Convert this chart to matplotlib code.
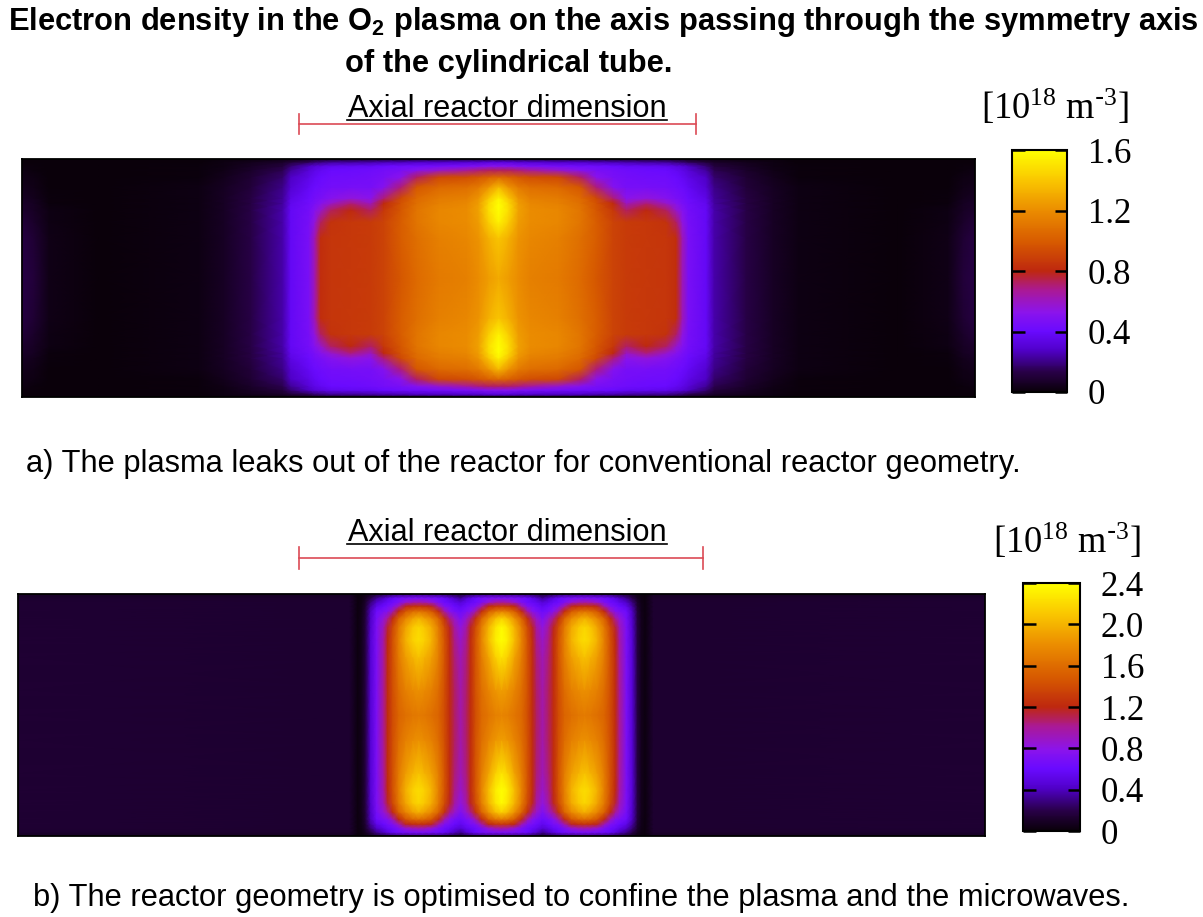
import matplotlib.pyplot as plt
import numpy as np
from matplotlib.colors import LinearSegmentedColormap

plt.rcParams["font.family"] = ["Liberation Sans", "DejaVu Sans"]
plt.rcParams["mathtext.default"] = "regular"

W, H = 1203, 917

# density, one quarter of each tube (it is mirrored in x and y)
# a: distance from tube centre in pixels of the picture
dx_a = [0, 10, 20, 32, 60, 82, 98, 115, 128, 148, 168, 178, 184, 190, 208, 216, 248, 275, 300, 400, 450, 465, 477]
dy_a = [0, 40, 56, 68, 75, 80, 91, 101, 108, 112, 116, 119]
density_a = [
    [1.30, 1.25, 1.20, 1.15, 1.12, 1.06, 0.98, 0.90, 0.87, 0.86, 0.85, 0.82, 0.62, 0.46, 0.38, 0.24, 0.13, 0.06, 0.02, 0.00, 0.03, 0.10, 0.13],
    [1.40, 1.32, 1.22, 1.18, 1.15, 1.08, 1.00, 0.90, 0.87, 0.86, 0.85, 0.82, 0.62, 0.46, 0.38, 0.24, 0.13, 0.06, 0.02, 0.00, 0.03, 0.09, 0.12],
    [1.55, 1.42, 1.25, 1.20, 1.18, 1.10, 1.00, 0.90, 0.87, 0.86, 0.84, 0.72, 0.55, 0.45, 0.38, 0.24, 0.13, 0.06, 0.02, 0.00, 0.02, 0.07, 0.10],
    [1.60, 1.48, 1.27, 1.20, 1.18, 1.10, 0.98, 0.86, 0.72, 0.80, 0.72, 0.58, 0.50, 0.44, 0.38, 0.24, 0.13, 0.06, 0.02, 0.00, 0.02, 0.06, 0.08],
    [1.60, 1.46, 1.25, 1.18, 1.15, 1.08, 0.96, 0.80, 0.60, 0.70, 0.58, 0.50, 0.46, 0.43, 0.36, 0.23, 0.12, 0.06, 0.02, 0.00, 0.01, 0.05, 0.07],
    [1.55, 1.40, 1.22, 1.15, 1.13, 1.06, 0.93, 0.70, 0.52, 0.55, 0.50, 0.46, 0.44, 0.41, 0.34, 0.22, 0.12, 0.06, 0.02, 0.00, 0.01, 0.04, 0.06],
    [1.35, 1.22, 1.12, 1.08, 1.05, 0.98, 0.70, 0.50, 0.45, 0.45, 0.44, 0.42, 0.41, 0.38, 0.30, 0.20, 0.10, 0.05, 0.02, 0.00, 0.00, 0.03, 0.04],
    [1.05, 1.02, 0.98, 0.95, 0.92, 0.72, 0.52, 0.46, 0.44, 0.43, 0.42, 0.40, 0.38, 0.35, 0.27, 0.17, 0.09, 0.04, 0.01, 0.00, 0.00, 0.02, 0.03],
    [0.72, 0.72, 0.70, 0.66, 0.58, 0.50, 0.46, 0.44, 0.42, 0.41, 0.40, 0.37, 0.35, 0.31, 0.22, 0.14, 0.07, 0.03, 0.01, 0.00, 0.00, 0.01, 0.02],
    [0.50, 0.50, 0.48, 0.46, 0.44, 0.43, 0.42, 0.40, 0.38, 0.37, 0.36, 0.33, 0.31, 0.27, 0.18, 0.11, 0.06, 0.02, 0.01, 0.00, 0.00, 0.01, 0.01],
    [0.32, 0.32, 0.30, 0.30, 0.28, 0.28, 0.26, 0.25, 0.24, 0.23, 0.22, 0.19, 0.18, 0.15, 0.10, 0.07, 0.04, 0.02, 0.00, 0.00, 0.00, 0.00, 0.00],
    [0.10, 0.10, 0.10, 0.09, 0.09, 0.08, 0.08, 0.08, 0.07, 0.07, 0.06, 0.06, 0.05, 0.04, 0.03, 0.02, 0.01, 0.01, 0.00, 0.00, 0.00, 0.00, 0.00],
]

# b
dx_b = [0, 6, 13, 20, 26, 31, 35, 41, 47, 52, 57, 63, 70, 77, 83, 89, 96, 103, 109, 114, 118, 125, 131, 136, 140, 144, 152, 484]
dy_b = [0, 25, 58, 75, 88, 97, 104, 109, 113, 117, 121]
density_b = [
    [1.75, 1.72, 1.65, 1.58, 1.42, 1.22, 1.08, 0.95, 1.08, 1.22, 1.40, 1.55, 1.62, 1.66, 1.68, 1.66, 1.62, 1.55, 1.40, 1.22, 1.02, 0.70, 0.45, 0.18, 0.06, 0.02, 0.13, 0.14],
    [1.90, 1.85, 1.75, 1.62, 1.44, 1.22, 1.07, 0.95, 1.08, 1.22, 1.42, 1.60, 1.72, 1.79, 1.82, 1.79, 1.72, 1.60, 1.42, 1.22, 1.02, 0.70, 0.45, 0.18, 0.06, 0.02, 0.13, 0.14],
    [2.25, 2.15, 1.92, 1.70, 1.45, 1.22, 1.05, 0.92, 1.05, 1.22, 1.45, 1.70, 1.90, 2.00, 2.08, 2.00, 1.88, 1.68, 1.43, 1.22, 1.00, 0.70, 0.45, 0.18, 0.06, 0.02, 0.13, 0.14],
    [2.40, 2.30, 2.05, 1.75, 1.45, 1.22, 1.03, 0.88, 1.03, 1.22, 1.45, 1.72, 2.00, 2.15, 2.22, 2.15, 1.98, 1.70, 1.43, 1.20, 0.98, 0.70, 0.45, 0.18, 0.06, 0.02, 0.13, 0.14],
    [2.38, 2.25, 2.00, 1.70, 1.40, 1.18, 0.98, 0.82, 0.98, 1.18, 1.40, 1.68, 1.95, 2.10, 2.18, 2.10, 1.92, 1.66, 1.38, 1.15, 0.93, 0.70, 0.44, 0.18, 0.06, 0.02, 0.13, 0.14],
    [2.15, 2.05, 1.82, 1.55, 1.25, 1.03, 0.88, 0.72, 0.88, 1.03, 1.25, 1.55, 1.78, 1.90, 1.98, 1.90, 1.75, 1.52, 1.22, 1.00, 0.85, 0.67, 0.42, 0.17, 0.06, 0.02, 0.13, 0.14],
    [1.70, 1.65, 1.50, 1.22, 0.95, 0.75, 0.70, 0.62, 0.68, 0.75, 0.95, 1.22, 1.48, 1.58, 1.62, 1.58, 1.46, 1.20, 0.92, 0.74, 0.70, 0.62, 0.40, 0.16, 0.05, 0.02, 0.13, 0.14],
    [1.30, 1.28, 1.20, 0.95, 0.72, 0.68, 0.62, 0.55, 0.60, 0.68, 0.72, 0.95, 1.18, 1.24, 1.26, 1.24, 1.18, 0.92, 0.72, 0.66, 0.60, 0.52, 0.34, 0.14, 0.05, 0.02, 0.13, 0.14],
    [0.98, 0.95, 0.85, 0.70, 0.62, 0.58, 0.55, 0.46, 0.52, 0.58, 0.62, 0.70, 0.85, 0.92, 0.95, 0.92, 0.85, 0.70, 0.62, 0.58, 0.52, 0.42, 0.28, 0.12, 0.04, 0.02, 0.13, 0.14],
    [0.72, 0.72, 0.70, 0.66, 0.60, 0.52, 0.46, 0.33, 0.42, 0.50, 0.58, 0.64, 0.68, 0.70, 0.70, 0.70, 0.68, 0.64, 0.58, 0.50, 0.42, 0.32, 0.20, 0.09, 0.03, 0.02, 0.12, 0.13],
    [0.30, 0.30, 0.30, 0.28, 0.26, 0.22, 0.18, 0.12, 0.16, 0.20, 0.24, 0.28, 0.28, 0.30, 0.30, 0.30, 0.28, 0.28, 0.24, 0.20, 0.16, 0.12, 0.08, 0.04, 0.02, 0.01, 0.08, 0.08],
]

ticks_a = [0, 0.4, 0.8, 1.2, 1.6]
ticks_b = [0, 0.4, 0.8, 1.2, 1.6, 2.0, 2.4]
tick_labels_a = ["0", "0.4", "0.8", "1.2", "1.6"]
tick_labels_b = ["0", "0.4", "0.8", "1.2", "1.6", "2.0", "2.4"]

plasma_nodes = [
    (0.00, (10, 0, 10)),
    (0.08, (40, 0, 70)),
    (0.17, (80, 0, 200)),
    (0.25, (105, 10, 255)),
    (0.33, (140, 20, 235)),
    (0.42, (170, 25, 150)),
    (0.50, (190, 40, 15)),
    (0.62, (215, 90, 0)),
    (0.75, (235, 140, 0)),
    (0.88, (250, 200, 0)),
    (1.00, (255, 255, 0)),
]
cmap = LinearSegmentedColormap.from_list(
    "plasma_gnuplot", [(v, tuple(c / 255 for c in rgb)) for v, rgb in plasma_nodes]
)

fig = plt.figure(figsize=(W / 100, H / 100), dpi=100)


def box(x0, y0, x1, y1):
    return [x0 / W, 1 - y1 / H, (x1 - x0) / W, (y1 - y0) / H]


def mirror(dx, dy, values):
    dx = np.array(dx, float)
    dy = np.array(dy, float)
    v = np.array(values)
    x = np.concatenate([-dx[:0:-1], dx])
    y = np.concatenate([-dy[:0:-1], dy])
    v = np.hstack([v[:, :0:-1], v])
    v = np.vstack([v[:0:-1], v])
    return x, y, v


def tube(rect, bar_rect, dx, dy, values, ticks, tick_labels):
    ax = fig.add_axes(box(*rect))
    x, y, v = mirror(dx, dy, values)
    mesh = ax.pcolormesh(x, y, v, shading="gouraud", cmap=cmap, vmin=0, vmax=ticks[-1])
    ax.set_xlim(x[0], x[-1])
    ax.set_ylim(y[0], y[-1])
    ax.set_xticks([])
    ax.set_yticks([])
    for s in ax.spines.values():
        s.set_linewidth(1.3)

    cax = fig.add_axes(box(*bar_rect))
    cb = fig.colorbar(mesh, cax=cax)
    cb.set_ticks(ticks, labels=tick_labels)
    cb.outline.set_linewidth(1.5)
    cb.minorticks_off()
    cax.tick_params(
        axis="y",
        direction="in",
        left=True,
        right=True,
        length=9,
        width=1.8,
        pad=15,
        labelsize=25,
        labelfontfamily="Liberation Serif",
    )


tube((22, 159, 975, 397), (1012, 150, 1067, 392), dx_a, dy_a, density_a, ticks_a, tick_labels_a)
tube((18, 594, 985, 836), (1023, 583, 1080, 831), dx_b, dy_b, density_b, ticks_b, tick_labels_b)

# overlay in picture pixels for the texts and the red brackets
page = fig.add_axes([0, 0, 1, 1], zorder=-1)
page.set_xlim(0, W)
page.set_ylim(H, 0)
page.axis("off")

page.text(603, 22, "Electron density in the O$_2$ plasma on the axis passing through the symmetry axis",
          ha="center", va="center", fontsize=22.2, fontweight="bold")
page.text(345, 64, "of the cylindrical tube.", ha="left", va="center", fontsize=22.2, fontweight="bold")
page.text(26, 464, "a) The plasma leaks out of the reactor for conventional reactor geometry.",
          ha="left", va="center", fontsize=22.2)
page.text(33, 898, "b) The reactor geometry is optimised to confine the plasma and the microwaves.",
          ha="left", va="center", fontsize=22.25)

unit = "[10$^{18}$ m$^{\\text{-}3}$]"
page.text(1055, 107, unit, ha="center", va="center", fontsize=26.3, family="Liberation Serif")
page.text(1067, 541, unit, ha="center", va="center", fontsize=26.3, family="Liberation Serif")

red = "#dc4a55"
for text_y, under_y, line_y, x0, x1, tick in [(109, 120, 124, 299, 696, 10), (533, 544, 558, 299, 703, 11)]:
    page.text(507, text_y, "Axial reactor dimension", ha="center", va="center", fontsize=22.1)
    page.plot([347, 667], [under_y, under_y], "k-", lw=1.2)
    page.plot([x0, x1], [line_y, line_y], "-", color=red, lw=1.2)
    page.plot([x0, x0], [line_y - tick, line_y + tick], "-", color=red, lw=1.2)
    page.plot([x1, x1], [line_y - tick, line_y + tick], "-", color=red, lw=1.2)

fig.savefig("out.png", dpi=100)
